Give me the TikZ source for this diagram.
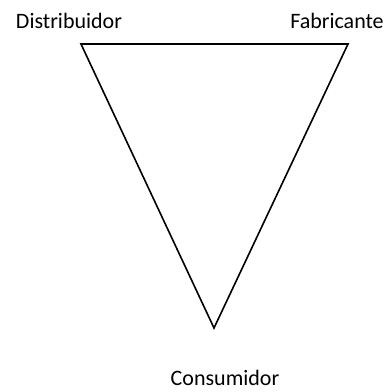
\documentclass[tikz,border=0pt]{standalone}
\usepackage{fontspec}
\setmainfont{Carlito}
\usetikzlibrary{positioning}

\begin{document}
\begin{tikzpicture}[x=1pt, y=-1pt, label/.style={font=\fontsize{22}{26}\selectfont, inner sep=0pt}]
      \useasboundingbox (0,0) rectangle (390,392);
      \coordinate (distv) at (81,44);
      \coordinate (fabv) at (348,44);
      \coordinate (consv) at (214,328);
      \node[label] (dist) at (69,21) {Distribuidor};
      \node[label] (fab) at (337,21) {Fabricante};
      \node[label] (cons) at (225,378) {Consumidor};

      \draw [line width=1.6pt, line join=miter] (distv) -- (fabv) -- (consv) -- cycle;
    \end{tikzpicture}
\end{document}
